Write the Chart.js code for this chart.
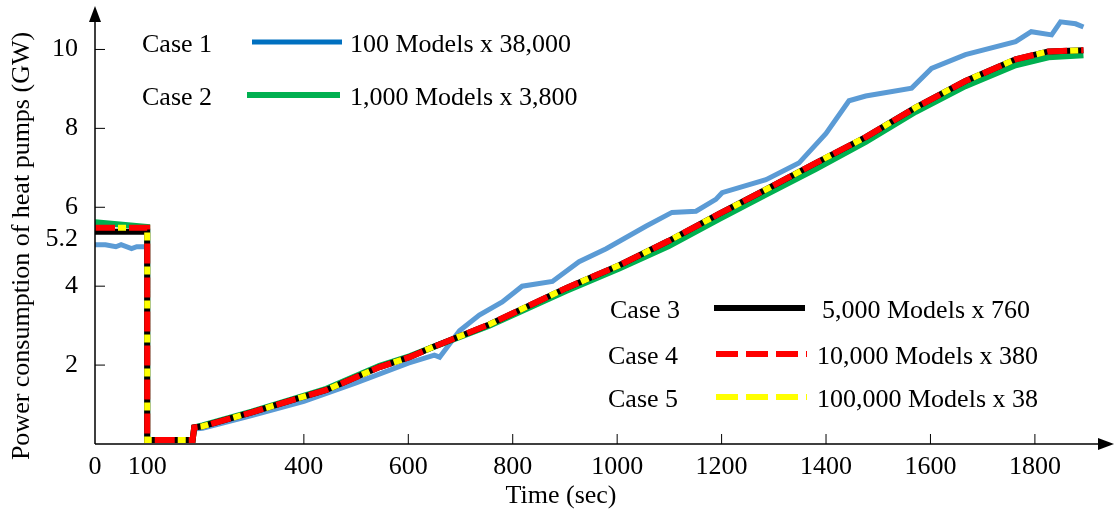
<!DOCTYPE html>
<html>
<head>
<meta charset="utf-8">
<script src="https://cdn.jsdelivr.net/npm/chart.js@4"></script>
<style>
  html, body { margin: 0; padding: 0; background: #fff; }
  #wrap { width: 1116px; height: 515px; }
</style>
</head>
<body>
<div id="wrap"><canvas id="myChart"></canvas></div>
<script>
// time axis (sec) and tick values
const xTicks = [0, 100, 400, 600, 800, 1000, 1200, 1400, 1600, 1800];
const yTicks = [2, 4, 5.2, 6, 8, 10];

// Case 3/4/5 share the same time stamps
const tMain = [0, 100, 100, 187, 190, 206, 300, 379, 443, 545, 602, 646, 755, 902, 1004, 1099, 1195, 1285, 1380, 1476, 1572, 1667, 1763, 1826, 1893];
const case3 = [5.38, 5.38, 0.1, 0.1, 0.42, 0.45, 0.8, 1.12, 1.37, 1.95, 2.2, 2.45, 3.03, 3.95, 4.53, 5.15, 5.83, 6.45, 7.12, 7.78, 8.53, 9.2, 9.75, 9.95, 9.98];
const case4 = [5.48, 5.48, 0.1, 0.1, 0.42, 0.45, 0.8, 1.12, 1.37, 1.95, 2.2, 2.45, 3.03, 3.95, 4.53, 5.15, 5.83, 6.45, 7.12, 7.78, 8.53, 9.2, 9.75, 9.95, 9.98];
const case5 = [5.48, 5.48, 0.1, 0.1, 0.42, 0.45, 0.8, 1.12, 1.37, 1.95, 2.2, 2.45, 3.03, 3.95, 4.53, 5.15, 5.83, 6.45, 7.12, 7.78, 8.53, 9.2, 9.75, 9.95, 9.98];
const case2 = [5.62, 5.5, 0.1, 0.1, 0.42, 0.47, 0.82, 1.14, 1.4, 1.98, 2.22, 2.45, 3.0, 3.88, 4.45, 5.02, 5.7, 6.32, 6.97, 7.66, 8.42, 9.07, 9.6, 9.8, 9.85];

// Case 1 (blue) has its own stepped trace
const tBlue = [0, 20, 40, 50, 70, 80, 100, 100, 187, 190, 206, 300, 400, 500, 600, 650, 660, 698, 736, 780, 818, 876, 927, 979, 1055, 1105, 1151, 1189, 1201, 1285, 1348, 1400, 1444, 1476, 1564, 1602, 1667, 1763, 1793, 1832, 1849, 1878, 1893];
const case1 = [5.05, 5.05, 5.0, 5.05, 4.95, 5.0, 5.0, 0.1, 0.1, 0.38, 0.4, 0.72, 1.08, 1.55, 2.05, 2.25, 2.2, 2.87, 3.27, 3.6, 4.0, 4.12, 4.62, 4.95, 5.52, 5.87, 5.9, 6.2, 6.37, 6.7, 7.12, 7.87, 8.7, 8.82, 9.02, 9.52, 9.87, 10.2, 10.45, 10.37, 10.7, 10.65, 10.57];

const caseNames = ['Case 1', 'Case 2', 'Case 3', 'Case 4', 'Case 5'];
const caseDesc = ['100 Models x 38,000', '1,000 Models x 3,800', '5,000 Models x 760', '10,000 Models x 380', '100,000 Models x 38'];
const xTitle = 'Time (sec)';
const yTitle = 'Power consumption of heat pumps (GW)';

const FONT = "'Liberation Serif', 'Times New Roman', serif";
const pts = (xs, ys) => xs.map((x, i) => ({ x: x, y: ys[i] }));

// axes with arrows, inward ticks, titles and the two legend blocks
const decorations = {
  id: 'decorations',
  afterDraw(chart) {
    const c = chart.ctx;
    const a = chart.chartArea;
    const xs = chart.scales.x, ys = chart.scales.y;
    c.save();
    c.strokeStyle = '#000';
    c.fillStyle = '#000';
    c.lineWidth = 1.5;
    c.beginPath();
    c.moveTo(a.left, a.bottom); c.lineTo(a.right, a.bottom);
    c.moveTo(a.left, a.bottom); c.lineTo(a.left, a.top + 8);
    c.stroke();
    // arrow heads
    c.beginPath();
    c.moveTo(a.right + 6, a.bottom); c.lineTo(a.right - 10, a.bottom - 6); c.lineTo(a.right - 10, a.bottom + 6);
    c.closePath(); c.fill();
    c.beginPath();
    c.moveTo(a.left, a.top - 4); c.lineTo(a.left - 6, a.top + 12); c.lineTo(a.left + 6, a.top + 12);
    c.closePath(); c.fill();
    // inward ticks
    c.lineWidth = 1;
    c.beginPath();
    xTicks.filter(v => v >= 400).forEach(v => {
      const px = xs.getPixelForValue(v);
      c.moveTo(px, a.bottom); c.lineTo(px, a.bottom - 10);
    });
    yTicks.filter(v => Number.isInteger(v)).forEach(v => {
      const py = ys.getPixelForValue(v);
      c.moveTo(a.left, py); c.lineTo(a.left + 10, py);
    });
    c.stroke();

    // axis titles
    c.font = '26px ' + FONT;
    c.textAlign = 'center';
    c.textBaseline = 'middle';
    c.fillText(xTitle, 561, 496);
    c.save();
    c.translate(22, 246);
    c.rotate(-Math.PI / 2);
    c.fillText(yTitle, 0, 0);
    c.restore();

    // legend
    const rows = [
      { nx: 142, lx0: 252, lx1: 342, dx: 350, y: 45, color: '#0070C0', w: 5, dash: [] },
      { nx: 142, lx0: 247, lx1: 340, dx: 350, y: 98, color: '#00B050', w: 6, dash: [] },
      { nx: 610, lx0: 714, lx1: 805, dx: 822, y: 311, color: '#000000', w: 6, dash: [] },
      { nx: 608, lx0: 716, lx1: 807, dx: 817, y: 357, color: '#FF0000', w: 6, dash: [22, 8] },
      { nx: 608, lx0: 716, lx1: 807, dx: 817, y: 400, color: '#FFFF00', w: 6, dash: [22, 8] }
    ];
    c.textAlign = 'left';
    rows.forEach((r, i) => {
      c.fillStyle = '#000';
      c.fillText(caseNames[i], r.nx, r.y);
      c.fillText(caseDesc[i], r.dx, r.y);
      c.strokeStyle = r.color;
      c.lineWidth = r.w;
      c.setLineDash(r.dash);
      c.beginPath();
      c.moveTo(r.lx0, r.y - 3); c.lineTo(r.lx1, r.y - 3);
      c.stroke();
      c.setLineDash([]);
    });
    c.restore();
  }
};

new Chart(document.getElementById('myChart'), {
  type: 'line',
  data: {
    datasets: [
      { label: caseNames[0], data: pts(tBlue, case1), borderColor: '#5B9BD5', borderWidth: 5 },
      { label: caseNames[1], data: pts(tMain, case2), borderColor: '#00B050', borderWidth: 6 },
      { label: caseNames[2], data: pts(tMain, case3), borderColor: '#000000', borderWidth: 6 },
      { label: caseNames[3], data: pts(tMain, case4), borderColor: '#FF0000', borderWidth: 6, borderDash: [20, 14] },
      { label: caseNames[4], data: pts(tMain, case5), borderColor: '#FFFF00', borderWidth: 6, borderDash: [8, 26], borderDashOffset: -23 }
    ].reverse().map((d, i) => Object.assign(d, { order: i, pointRadius: 0, tension: 0, fill: false }))
  },
  options: {
    responsive: true,
    maintainAspectRatio: false,
    animation: false,
    layout: { padding: { left: 0, right: 8, top: 10, bottom: 0 } },
    plugins: { legend: { display: false }, tooltip: { enabled: false } },
    scales: {
      x: {
        type: 'linear',
        min: 0,
        max: 1940,
        afterBuildTicks: s => { s.ticks = xTicks.map(v => ({ value: v })); },
        afterFit: s => { s.height = 71; s.paddingLeft = 0; s.paddingRight = 0; },
        grid: { display: false, drawTicks: false },
        border: { display: false },
        ticks: { color: '#000', font: { family: FONT, size: 26 }, padding: 8, maxRotation: 0, autoSkip: false, callback: v => String(v) }
      },
      y: {
        min: 0,
        max: 11,
        afterBuildTicks: s => { s.ticks = yTicks.map(v => ({ value: v })); },
        afterFit: s => { s.width = 95; s.paddingTop = 0; s.paddingBottom = 0; },
        grid: { display: false, drawTicks: false },
        border: { display: false },
        ticks: { color: '#000', font: { family: FONT, size: 26 }, padding: 17, autoSkip: false, callback: v => String(v) }
      }
    }
  },
  plugins: [decorations]
});
</script>
</body>
</html>
